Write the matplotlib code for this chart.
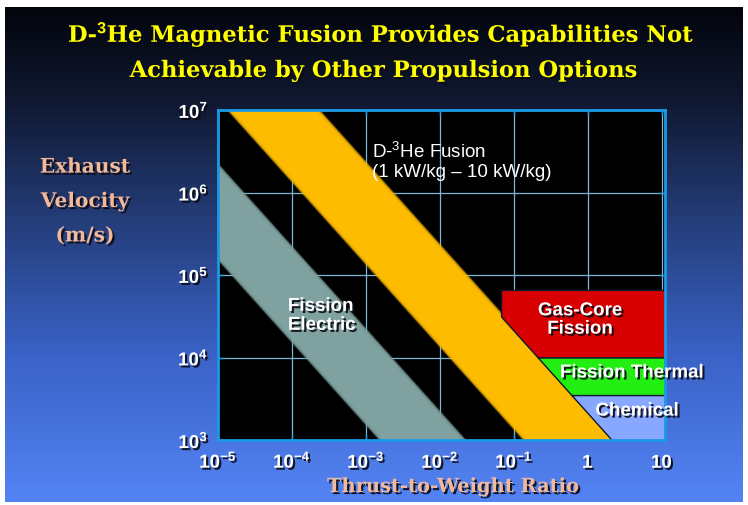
import numpy as np
import matplotlib
matplotlib.use('Agg')
import matplotlib.pyplot as plt
import matplotlib.patheffects as pe
from matplotlib.colors import LinearSegmentedColormap

plt.rcParams['mathtext.fontset'] = 'custom'
plt.rcParams['mathtext.rm'] = 'Liberation Sans'
plt.rcParams['mathtext.bf'] = 'Liberation Sans:bold'

# axis ticks
x_ticks = [1e-5, 1e-4, 1e-3, 1e-2, 1e-1, 1, 10]
x_tick_labels = [r'$\mathbf{10^{-5}}$', r'$\mathbf{10^{-4}}$', r'$\mathbf{10^{-3}}$',
                 r'$\mathbf{10^{-2}}$', r'$\mathbf{10^{-1}}$', r'$\mathbf{1}$', r'$\mathbf{10}$']
y_ticks = [1e3, 1e4, 1e5, 1e6, 1e7]
y_tick_labels = [r'$\mathbf{10^{3}}$', r'$\mathbf{10^{4}}$', r'$\mathbf{10^{5}}$',
                 r'$\mathbf{10^{6}}$', r'$\mathbf{10^{7}}$']

# bands: limits of (thrust/weight) * (exhaust velocity), m/s
fusion_band = [150, 2100]
electric_band = [1.7, 20]

# boxes
box_names = ['Gas-Core\nFission', 'Fission Thermal', 'Chemical']
box_v_low = [1e4, 3.5e3, 1e3]
box_v_high = [6.6e4, 1e4, 3.5e3]
box_tw_min = [0.067, 1e-5, 1e-5]
box_tw_max = [11, 11, 11]
box_colors = ['#d80000', '#22ee11', '#88a8ff']

shadow = [pe.SimplePatchShadow(offset=(1.5, -1.5), shadow_rgbFace='#0a0a14', alpha=0.9), pe.Normal()]

fig = plt.figure(figsize=(7.48, 5.06), dpi=100, facecolor='white')

# gradient background
bg = fig.add_axes([5/748, 3/506, 737/748, 495/506])
grad_cmap = LinearSegmentedColormap.from_list('bg', [
    (0.0, '#03050c'), (0.2, '#111a34'), (0.45, '#26407f'),
    (0.7, '#3a62c6'), (1.0, '#5484f4')])
g = np.linspace(0, 1, 256).reshape(-1, 1)
bg.imshow(g, aspect='auto', cmap=grad_cmap, extent=[0, 1, 0, 1])
bg.axis('off')

ax = fig.add_axes([218/748, 1-441/506, 447/748, 330/506])
ax.set_facecolor('black')
ax.set_xscale('log')
ax.set_yscale('log')
ax.set_xlim(1e-5, 11)
ax.set_ylim(1e3, 1e7)
ax.set_axisbelow(True)
ax.grid(True, which='major', color='#7fb6d6', lw=0.9)

# soft-edged bands
la = np.linspace(-5, np.log10(11), 400)
lv = np.linspace(3, 7, 400)
LA, LV = np.meshgrid(la, lv)
U = LA + LV
w = 0.12
def band(lo, hi):
    return (np.clip(0.5 + (U - np.log10(lo)) / w, 0, 1) *
            np.clip(0.5 + (np.log10(hi) - U) / w, 0, 1))

for lims, col in [(electric_band, (0.5, 0.64, 0.63)), (fusion_band, (1.0, 0.74, 0.0))]:
    cm = LinearSegmentedColormap.from_list('b', [col + (0,), col + (1,)])
    ax.pcolormesh(10**LA, 10**LV, band(*lims), cmap=cm, vmin=0, vmax=1,
                  shading='gouraud', zorder=1)

# propulsion boxes, cut along the fusion band edge
for lo, hi, amin, amax, col in zip(box_v_low, box_v_high, box_tw_min, box_tw_max, box_colors):
    v = np.logspace(np.log10(lo), np.log10(hi), 60)
    left = np.maximum(amin, fusion_band[1] / v)
    ax.fill_betweenx(v, left, amax, facecolor=col, edgecolor='#101830', lw=1.0, zorder=2)

ax.text(1.2e-3, 2.5e6, 'D-$^{3}$He Fusion\n(1 kW/kg – 10 kW/kg)', color='white',
        fontsize=13.5, family='Liberation Sans', ha='left', va='center', linespacing=1.15, zorder=4)
ax.text(8.8e-5, 3.2e4, 'Fission\nElectric', color='white', fontsize=13.5, fontweight='bold',
        family='Liberation Sans', ha='left', va='center', linespacing=1.15, zorder=4,
        path_effects=shadow)
box_label_pos = [(0.78, 2.85e4), (3.9, 6.5e3), (4.6, 2.24e3)]
for name, (px, py) in zip(box_names, box_label_pos):
    ax.text(px, py, name, color='white', fontsize=13.5, fontweight='bold',
            family='Liberation Sans', ha='center', va='center', linespacing=1.1,
            zorder=4, path_effects=shadow, clip_on=False)

ax.set_xticks(x_ticks, x_tick_labels)
ax.set_yticks(y_ticks, y_tick_labels)
ax.minorticks_off()
ax.tick_params(which='both', direction='in', color='#20a0e0', length=4, width=1,
               top=True, right=True, labelcolor='white', labelsize=13.5)
ax.tick_params(axis='x', pad=20)
ax.tick_params(axis='y', pad=7)
for lbl in ax.get_xticklabels():
    lbl.set_va('baseline')
    lbl.set_path_effects(shadow)
for lbl in ax.get_yticklabels():
    lbl.set_path_effects(shadow)
for s in ax.spines.values():
    s.set_color('#1a9ae6')
    s.set_linewidth(2)

peach = '#f2b89a'
fig.text(381/748, 1-35/506, r'D-$^{\mathbf{3}}$He Magnetic Fusion Provides Capabilities Not',
         color='#ffff00', fontsize=16.3, fontweight='bold', family='DejaVu Serif',
         ha='center', va='center', path_effects=shadow)
fig.text(383/748, 1-72/506, 'Achievable by Other Propulsion Options',
         color='#ffff00', fontsize=16.3, fontweight='bold', family='DejaVu Serif',
         ha='center', va='center', path_effects=shadow)
fig.text(85/748, 1-202/506, 'Exhaust\nVelocity\n(m/s)', color=peach, fontsize=14.5,
         fontweight='bold', family='DejaVu Serif', ha='center', va='center',
         linespacing=1.9, path_effects=shadow)
fig.text(453/748, 1-488/506, 'Thrust-to-Weight Ratio', color=peach, fontsize=14,
         fontweight='bold', family='DejaVu Serif', ha='center', va='center',
         path_effects=shadow)

fig.savefig('out.png', dpi=100, facecolor='white')
